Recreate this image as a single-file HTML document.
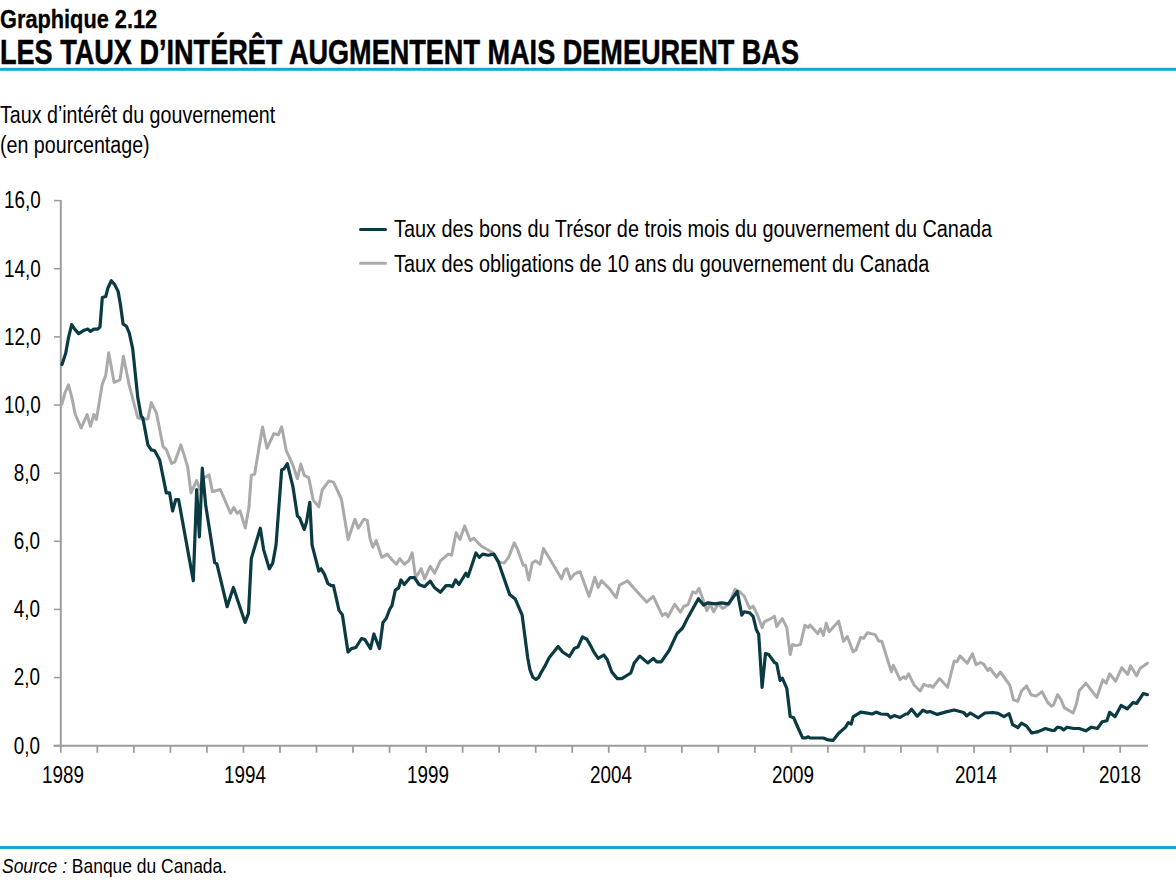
<!DOCTYPE html>
<html><head><meta charset="utf-8"><style>
html,body{margin:0;padding:0;background:#fff;}
body{width:1176px;height:888px;position:relative;overflow:hidden;font-family:"Liberation Sans", sans-serif;color:#000;}
svg{position:absolute;left:0;top:0;}
</style></head><body>
<svg width="1176" height="888" viewBox="0 0 1176 888">
<line x1="60.8" y1="200" x2="60.8" y2="745.7" stroke="#9d9d9d" stroke-width="2"/>
<line x1="53.5" y1="745.7" x2="1148" y2="745.7" stroke="#9d9d9d" stroke-width="2"/>
<line x1="54" y1="745.70" x2="60.8" y2="745.70" stroke="#9d9d9d" stroke-width="1.6"/>
<line x1="54" y1="677.56" x2="60.8" y2="677.56" stroke="#9d9d9d" stroke-width="1.6"/>
<line x1="54" y1="609.43" x2="60.8" y2="609.43" stroke="#9d9d9d" stroke-width="1.6"/>
<line x1="54" y1="541.29" x2="60.8" y2="541.29" stroke="#9d9d9d" stroke-width="1.6"/>
<line x1="54" y1="473.15" x2="60.8" y2="473.15" stroke="#9d9d9d" stroke-width="1.6"/>
<line x1="54" y1="405.01" x2="60.8" y2="405.01" stroke="#9d9d9d" stroke-width="1.6"/>
<line x1="54" y1="336.88" x2="60.8" y2="336.88" stroke="#9d9d9d" stroke-width="1.6"/>
<line x1="54" y1="268.74" x2="60.8" y2="268.74" stroke="#9d9d9d" stroke-width="1.6"/>
<line x1="54" y1="200.60" x2="60.8" y2="200.60" stroke="#9d9d9d" stroke-width="1.6"/>
<line x1="60.80" y1="745.7" x2="60.80" y2="752.8" stroke="#9d9d9d" stroke-width="1.8"/>
<line x1="97.33" y1="745.7" x2="97.33" y2="752.8" stroke="#9d9d9d" stroke-width="1.8"/>
<line x1="133.86" y1="745.7" x2="133.86" y2="752.8" stroke="#9d9d9d" stroke-width="1.8"/>
<line x1="170.39" y1="745.7" x2="170.39" y2="752.8" stroke="#9d9d9d" stroke-width="1.8"/>
<line x1="206.92" y1="745.7" x2="206.92" y2="752.8" stroke="#9d9d9d" stroke-width="1.8"/>
<line x1="243.45" y1="745.7" x2="243.45" y2="752.8" stroke="#9d9d9d" stroke-width="1.8"/>
<line x1="279.98" y1="745.7" x2="279.98" y2="752.8" stroke="#9d9d9d" stroke-width="1.8"/>
<line x1="316.51" y1="745.7" x2="316.51" y2="752.8" stroke="#9d9d9d" stroke-width="1.8"/>
<line x1="353.04" y1="745.7" x2="353.04" y2="752.8" stroke="#9d9d9d" stroke-width="1.8"/>
<line x1="389.57" y1="745.7" x2="389.57" y2="752.8" stroke="#9d9d9d" stroke-width="1.8"/>
<line x1="426.10" y1="745.7" x2="426.10" y2="752.8" stroke="#9d9d9d" stroke-width="1.8"/>
<line x1="462.63" y1="745.7" x2="462.63" y2="752.8" stroke="#9d9d9d" stroke-width="1.8"/>
<line x1="499.16" y1="745.7" x2="499.16" y2="752.8" stroke="#9d9d9d" stroke-width="1.8"/>
<line x1="535.69" y1="745.7" x2="535.69" y2="752.8" stroke="#9d9d9d" stroke-width="1.8"/>
<line x1="572.22" y1="745.7" x2="572.22" y2="752.8" stroke="#9d9d9d" stroke-width="1.8"/>
<line x1="608.75" y1="745.7" x2="608.75" y2="752.8" stroke="#9d9d9d" stroke-width="1.8"/>
<line x1="645.28" y1="745.7" x2="645.28" y2="752.8" stroke="#9d9d9d" stroke-width="1.8"/>
<line x1="681.81" y1="745.7" x2="681.81" y2="752.8" stroke="#9d9d9d" stroke-width="1.8"/>
<line x1="718.34" y1="745.7" x2="718.34" y2="752.8" stroke="#9d9d9d" stroke-width="1.8"/>
<line x1="754.87" y1="745.7" x2="754.87" y2="752.8" stroke="#9d9d9d" stroke-width="1.8"/>
<line x1="791.40" y1="745.7" x2="791.40" y2="752.8" stroke="#9d9d9d" stroke-width="1.8"/>
<line x1="827.93" y1="745.7" x2="827.93" y2="752.8" stroke="#9d9d9d" stroke-width="1.8"/>
<line x1="864.46" y1="745.7" x2="864.46" y2="752.8" stroke="#9d9d9d" stroke-width="1.8"/>
<line x1="900.99" y1="745.7" x2="900.99" y2="752.8" stroke="#9d9d9d" stroke-width="1.8"/>
<line x1="937.52" y1="745.7" x2="937.52" y2="752.8" stroke="#9d9d9d" stroke-width="1.8"/>
<line x1="974.05" y1="745.7" x2="974.05" y2="752.8" stroke="#9d9d9d" stroke-width="1.8"/>
<line x1="1010.58" y1="745.7" x2="1010.58" y2="752.8" stroke="#9d9d9d" stroke-width="1.8"/>
<line x1="1047.11" y1="745.7" x2="1047.11" y2="752.8" stroke="#9d9d9d" stroke-width="1.8"/>
<line x1="1083.64" y1="745.7" x2="1083.64" y2="752.8" stroke="#9d9d9d" stroke-width="1.8"/>
<line x1="1120.17" y1="745.7" x2="1120.17" y2="752.8" stroke="#9d9d9d" stroke-width="1.8"/>
<polyline fill="none" stroke="#aaaaaa" stroke-width="3" stroke-linejoin="round" stroke-linecap="round" points="61.8,404.3 65.1,392.5 68.5,384.9 71.9,397.6 75.3,414.5 81.2,428.0 87.1,414.5 90.5,426.3 93.9,414.5 96.4,419.5 102.3,384.0 105.7,375.6 108.7,352.8 114.1,382.4 120.0,379.8 123.4,356.2 129.3,385.7 137.8,417.8 142.8,419.5 147.9,418.7 151.3,402.6 156.4,412.8 163.1,446.6 166.5,449.9 171.6,463.4 174.9,461.8 180.8,444.9 185.1,458.4 187.7,467.0 191.0,492.9 196.7,480.5 200.0,489.5 203.4,478.3 209.1,474.9 212.4,491.8 220.3,489.5 230.5,513.2 233.8,507.6 237.2,513.2 240.1,510.9 245.3,528.0 249.0,506.8 251.3,475.3 254.6,474.2 262.5,426.9 267.0,448.3 273.8,433.6 278.3,434.8 281.7,426.9 286.2,450.5 292.9,465.2 297.4,478.7 300.8,464.0 304.2,475.3 308.7,477.6 313.2,500.1 318.8,506.8 322.2,490.0 329.0,480.9 333.5,482.1 341.4,499.0 348.1,539.5 354.9,519.2 358.2,528.2 363.9,519.2 367.3,520.4 370.0,538.4 372.8,547.3 376.2,540.5 381.8,557.4 387.4,554.1 391.9,559.7 396.4,564.2 399.8,558.6 404.3,564.2 408.8,560.8 412.2,552.9 415.6,577.7 421.2,568.7 424.6,578.8 430.2,566.4 434.7,573.2 440.4,560.8 448.2,554.1 451.6,555.2 456.1,532.7 460.0,539.4 464.6,525.9 470.3,540.5 473.6,538.3 481.5,546.2 487.2,549.5 492.8,552.9 498.4,561.9 504.1,563.1 508.6,557.4 514.2,542.8 517.6,549.5 523.2,565.3 525.5,565.3 528.8,580.0 532.2,563.1 535.6,560.8 540.1,564.2 543.5,548.4 553.6,565.3 561.5,578.8 564.9,569.8 567.1,568.7 570.5,579.0 574.5,573.9 580.1,571.7 589.1,596.4 594.8,577.3 598.2,587.4 601.5,580.7 609.4,588.6 616.2,597.6 619.5,585.2 627.4,580.7 634.2,588.6 646.6,602.1 653.3,596.4 662.3,615.6 665.7,613.3 668.0,616.7 674.7,604.3 680.4,612.2 683.7,606.6 688.2,604.3 692.7,591.9 696.1,593.1 699.0,588.2 706.9,610.7 710.3,603.9 713.6,611.8 718.2,603.9 722.7,608.4 729.4,603.9 735.0,589.3 739.5,591.5 744.1,596.0 749.7,608.4 753.1,606.2 757.6,615.2 762.1,627.6 764.3,621.9 768.8,619.7 774.5,616.3 776.7,626.4 782.3,618.6 786.8,627.6 790.2,654.6 792.5,644.5 795.9,645.6 800.4,644.5 804.9,625.3 808.2,627.6 810.0,625.0 817.7,633.6 820.5,628.8 823.4,635.5 826.3,623.1 829.1,631.7 838.7,621.2 843.5,641.3 847.3,636.5 853.1,651.8 856.0,649.9 860.7,637.4 863.6,638.4 867.4,632.7 875.1,634.6 878.9,641.3 881.8,641.3 891.4,671.9 893.3,665.2 900.0,679.6 903.8,676.7 905.7,678.6 908.6,673.8 914.3,685.3 920.1,691.0 923.9,684.3 928.7,686.3 930.0,685.2 932.9,687.3 939.5,678.6 947.6,687.3 954.2,661.0 957.1,661.7 960.0,655.9 967.3,663.2 972.5,653.7 976.1,664.7 980.5,662.5 983.4,663.9 987.8,670.5 990.0,668.3 996.6,677.1 1000.3,672.0 1009.8,685.2 1013.5,699.8 1017.8,701.3 1021.5,691.0 1026.6,685.9 1031.0,694.7 1036.1,696.1 1042.0,691.7 1047.9,702.7 1051.5,706.2 1053.5,704.9 1057.6,694.7 1060.9,699.5 1064.3,707.6 1073.1,713.0 1076.5,703.5 1079.2,690.7 1085.9,683.2 1096.8,697.4 1102.8,679.9 1106.2,683.2 1109.6,673.8 1115.7,681.2 1121.8,667.7 1127.8,674.5 1130.5,665.7 1136.6,675.8 1140.0,668.4 1147.4,663.2"/>
<polyline fill="none" stroke="#0a3a42" stroke-width="3.2" stroke-linejoin="round" stroke-linecap="round" points="62.0,364.6 65.7,353.3 68.5,337.6 71.7,324.6 74.7,329.1 78.6,333.6 84.3,330.2 87.7,329.1 90.5,331.4 93.9,329.1 97.8,329.1 100.0,326.9 102.3,297.6 105.7,296.5 107.9,288.0 111.3,280.7 114.7,284.6 118.1,291.4 120.3,303.8 123.1,324.0 126.5,326.3 129.3,333.0 132.7,348.8 137.8,397.6 141.1,416.1 142.8,417.8 147.9,444.9 151.3,449.9 154.7,450.8 159.7,460.1 166.3,492.9 169.6,492.9 172.6,511.0 175.7,499.7 178.6,499.7 193.3,580.8 196.7,489.5 199.4,536.8 202.3,468.2 205.7,505.3 214.7,562.7 216.9,563.9 227.1,606.7 233.4,587.5 245.1,622.4 248.5,613.4 251.3,558.6 260.3,528.2 263.6,549.6 269.3,568.8 272.7,563.2 276.0,545.1 281.7,469.7 283.9,469.0 287.3,463.6 292.9,486.6 297.4,515.9 299.7,518.1 304.2,529.4 306.4,522.6 309.8,502.3 312.1,545.1 318.8,571.0 321.1,568.8 324.5,574.4 327.8,583.4 331.2,585.7 333.5,585.7 339.0,610.4 342.4,614.9 348.0,652.0 351.4,648.6 355.9,647.5 361.5,638.5 364.9,639.6 370.5,648.6 373.9,634.0 379.5,648.6 382.9,622.7 386.3,618.2 389.7,609.2 391.9,605.9 395.3,590.1 398.7,587.8 400.9,580.0 404.3,584.5 410.0,577.7 414.5,577.7 419.0,584.5 424.6,586.7 430.2,581.1 434.7,587.8 440.4,592.3 446.0,585.6 450.0,585.6 452.3,586.7 455.6,580.0 459.0,584.5 465.8,573.2 468.0,576.6 471.4,566.4 475.9,552.9 479.3,557.4 482.7,554.1 488.3,555.2 493.9,554.1 498.4,561.9 501.8,572.1 509.7,594.6 515.3,599.1 522.1,614.9 527.7,657.7 530.0,670.0 532.8,677.3 536.0,679.5 539.0,677.0 541.2,672.3 544.6,666.7 549.1,657.7 558.1,646.4 562.6,652.0 569.4,656.5 574.5,648.2 577.9,647.1 582.4,637.0 586.9,639.2 591.4,647.1 593.6,651.6 598.2,658.4 603.8,655.0 607.2,659.5 611.7,671.9 617.3,678.6 621.8,678.6 630.8,673.0 634.2,662.9 639.8,656.1 647.7,662.9 653.3,658.4 656.7,661.8 661.2,661.8 669.1,650.5 677.0,633.6 682.6,628.0 687.1,619.0 698.4,598.7 703.5,605.0 708.0,602.8 714.8,603.9 721.5,602.8 728.3,603.9 737.3,591.5 741.8,615.2 744.1,611.8 749.7,612.9 753.1,616.3 756.4,629.8 758.7,634.3 762.1,687.3 765.5,653.5 768.8,654.6 774.5,662.5 776.7,663.6 780.1,680.5 782.3,678.2 786.8,688.4 790.2,716.5 793.6,717.7 797.0,725.5 802.6,737.9 806.0,737.9 808.2,736.8 810.0,738.0 823.4,738.0 828.2,739.9 833.0,740.4 838.7,733.2 845.4,727.4 848.3,722.6 851.2,724.0 853.1,716.9 860.7,712.1 867.4,713.1 872.2,714.0 876.1,712.1 880.8,714.0 887.5,714.4 890.4,717.5 894.2,715.6 900.0,717.5 905.7,714.0 907.6,714.0 911.5,709.2 917.2,716.3 923.0,710.2 926.8,712.1 930.0,711.5 937.3,714.4 946.1,711.9 954.2,710.0 963.7,712.5 966.6,715.9 970.3,713.0 978.3,717.8 984.9,713.0 993.0,712.5 998.1,713.4 1003.9,716.6 1009.1,713.7 1012.7,724.7 1017.8,727.6 1021.5,723.2 1026.6,726.1 1031.8,733.0 1038.3,731.6 1045.4,728.5 1052.2,730.5 1054.2,730.5 1057.6,727.2 1060.9,727.8 1063.6,729.9 1067.0,727.2 1073.8,728.5 1079.2,728.5 1085.9,730.8 1091.4,727.2 1097.4,728.5 1102.2,721.8 1106.9,720.8 1109.6,712.3 1115.0,716.8 1121.1,705.5 1127.2,708.9 1133.2,702.4 1136.6,703.5 1143.4,693.4 1147.4,694.7"/>
<line x1="360.5" y1="229.5" x2="385.5" y2="229.5" stroke="#0a3a42" stroke-width="3" stroke-linecap="round"/>
<line x1="360.5" y1="263.3" x2="385.5" y2="263.3" stroke="#aaaaaa" stroke-width="3" stroke-linecap="round"/>
<rect x="0" y="67.8" width="1176" height="3" fill="#14a9cf"/>
<rect x="0" y="846" width="1176" height="3" fill="#14a9cf"/>
</svg>
<div style="position:absolute;left:0px;top:6.07px;font-size:25px;line-height:1.117;font-weight:bold;font-style:normal;white-space:nowrap;transform:scaleX(0.87);transform-origin:0 0;color:#000;-webkit-text-stroke:0.3px #000;">Graphique 2.12</div>
<div style="position:absolute;left:0px;top:32.88px;font-size:34.5px;line-height:1.117;font-weight:bold;font-style:normal;white-space:nowrap;transform:scaleX(0.785);transform-origin:0 0;color:#000;-webkit-text-stroke:0.5px #000;">LES TAUX D’INTÉRÊT AUGMENTENT MAIS DEMEURENT BAS</div>
<div style="position:absolute;left:0px;top:101.53px;font-size:23.5px;line-height:1.117;font-weight:normal;font-style:normal;white-space:nowrap;transform:scaleX(0.836);transform-origin:0 0;color:#000;">Taux d’intérêt du gouvernement</div>
<div style="position:absolute;left:0px;top:131.73px;font-size:23.5px;line-height:1.117;font-weight:normal;font-style:normal;white-space:nowrap;transform:scaleX(0.836);transform-origin:0 0;color:#000;">(en pourcentage)</div>
<div style="position:absolute;right:1135.8px;top:731.53px;font-size:24.5px;line-height:1.117;font-weight:normal;white-space:nowrap;transform:scaleX(0.77);transform-origin:100% 0;color:#000">0,0</div>
<div style="position:absolute;right:1135.8px;top:663.39px;font-size:24.5px;line-height:1.117;font-weight:normal;white-space:nowrap;transform:scaleX(0.77);transform-origin:100% 0;color:#000">2,0</div>
<div style="position:absolute;right:1135.8px;top:595.25px;font-size:24.5px;line-height:1.117;font-weight:normal;white-space:nowrap;transform:scaleX(0.77);transform-origin:100% 0;color:#000">4,0</div>
<div style="position:absolute;right:1135.8px;top:527.12px;font-size:24.5px;line-height:1.117;font-weight:normal;white-space:nowrap;transform:scaleX(0.77);transform-origin:100% 0;color:#000">6,0</div>
<div style="position:absolute;right:1135.8px;top:458.98px;font-size:24.5px;line-height:1.117;font-weight:normal;white-space:nowrap;transform:scaleX(0.77);transform-origin:100% 0;color:#000">8,0</div>
<div style="position:absolute;right:1135.8px;top:390.84px;font-size:24.5px;line-height:1.117;font-weight:normal;white-space:nowrap;transform:scaleX(0.77);transform-origin:100% 0;color:#000">10,0</div>
<div style="position:absolute;right:1135.8px;top:322.70px;font-size:24.5px;line-height:1.117;font-weight:normal;white-space:nowrap;transform:scaleX(0.77);transform-origin:100% 0;color:#000">12,0</div>
<div style="position:absolute;right:1135.8px;top:254.56px;font-size:24.5px;line-height:1.117;font-weight:normal;white-space:nowrap;transform:scaleX(0.77);transform-origin:100% 0;color:#000">14,0</div>
<div style="position:absolute;right:1135.8px;top:186.43px;font-size:24.5px;line-height:1.117;font-weight:normal;white-space:nowrap;transform:scaleX(0.77);transform-origin:100% 0;color:#000">16,0</div>
<div style="position:absolute;left:-137.2px;width:400px;text-align:center;top:761.03px;font-size:24.5px;line-height:1.117;font-weight:normal;white-space:nowrap;transform:scaleX(0.77);transform-origin:50% 0;color:#000">1989</div>
<div style="position:absolute;left:45.44999999999999px;width:400px;text-align:center;top:761.03px;font-size:24.5px;line-height:1.117;font-weight:normal;white-space:nowrap;transform:scaleX(0.77);transform-origin:50% 0;color:#000">1994</div>
<div style="position:absolute;left:228.10000000000002px;width:400px;text-align:center;top:761.03px;font-size:24.5px;line-height:1.117;font-weight:normal;white-space:nowrap;transform:scaleX(0.77);transform-origin:50% 0;color:#000">1999</div>
<div style="position:absolute;left:410.75px;width:400px;text-align:center;top:761.03px;font-size:24.5px;line-height:1.117;font-weight:normal;white-space:nowrap;transform:scaleX(0.77);transform-origin:50% 0;color:#000">2004</div>
<div style="position:absolute;left:593.4px;width:400px;text-align:center;top:761.03px;font-size:24.5px;line-height:1.117;font-weight:normal;white-space:nowrap;transform:scaleX(0.77);transform-origin:50% 0;color:#000">2009</div>
<div style="position:absolute;left:776.05px;width:400px;text-align:center;top:761.03px;font-size:24.5px;line-height:1.117;font-weight:normal;white-space:nowrap;transform:scaleX(0.77);transform-origin:50% 0;color:#000">2014</div>
<div style="position:absolute;left:920.1700000000001px;width:400px;text-align:center;top:761.03px;font-size:24.5px;line-height:1.117;font-weight:normal;white-space:nowrap;transform:scaleX(0.77);transform-origin:50% 0;color:#000">2018</div>
<div style="position:absolute;left:394px;top:217.09px;font-size:23px;line-height:1.117;font-weight:normal;font-style:normal;white-space:nowrap;transform:scaleX(0.863);transform-origin:0 0;color:#000;">Taux des bons du Trésor de trois mois du gouvernement du Canada</div>
<div style="position:absolute;left:394px;top:252.19px;font-size:23px;line-height:1.117;font-weight:normal;font-style:normal;white-space:nowrap;transform:scaleX(0.863);transform-origin:0 0;color:#000;">Taux des obligations de 10 ans du gouvernement du Canada</div>
<div style="position:absolute;left:1.5px;top:854.00px;font-size:21px;line-height:1.117;font-weight:normal;font-style:normal;white-space:nowrap;transform:scaleX(0.831);transform-origin:0 0;color:#000;"><i>Source :</i> Banque du Canada.</div>
</body></html>
